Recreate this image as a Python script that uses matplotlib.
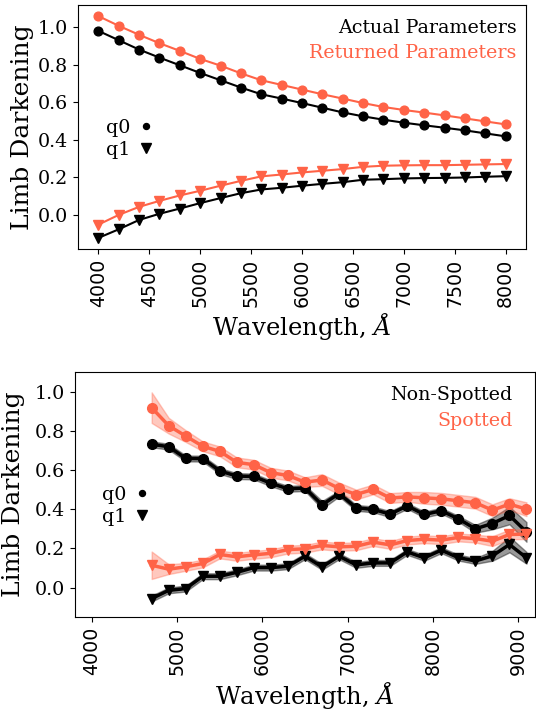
import numpy as np
import matplotlib
matplotlib.use("Agg")
import matplotlib.pyplot as plt
from matplotlib.lines import Line2D

plt.rcParams['mathtext.fontset'] = 'dejavuserif'

RED = 'tomato'

# ---------------- top panel data ----------------
wl_top = [4000, 4200, 4400, 4600, 4800, 5000, 5200, 5400, 5600, 5800, 6000,
          6200, 6400, 6600, 6800, 7000, 7200, 7400, 7600, 7800, 8000]
actual_q0 = [0.982, 0.932, 0.882, 0.839, 0.798, 0.757, 0.718, 0.679, 0.643, 0.620, 0.596,
             0.571, 0.546, 0.525, 0.507, 0.491, 0.477, 0.464, 0.450, 0.434, 0.418]
returned_q0 = [1.061, 1.009, 0.961, 0.916, 0.875, 0.832, 0.796, 0.755, 0.718, 0.693, 0.668,
               0.643, 0.620, 0.596, 0.575, 0.559, 0.545, 0.530, 0.514, 0.498, 0.482]
actual_q1 = [-0.125, -0.079, -0.029, 0.004, 0.032, 0.061, 0.088, 0.114, 0.134, 0.143, 0.154,
             0.164, 0.173, 0.186, 0.189, 0.193, 0.195, 0.196, 0.198, 0.202, 0.205]
returned_q1 = [-0.054, -0.002, 0.041, 0.073, 0.102, 0.127, 0.154, 0.180, 0.204, 0.214, 0.225,
               0.234, 0.243, 0.255, 0.261, 0.263, 0.264, 0.264, 0.266, 0.268, 0.270]

# ---------------- bottom panel data ----------------
wl_bot = [4700, 4900, 5100, 5300, 5500, 5700, 5900, 6100, 6300, 6500, 6700, 6900,
          7100, 7300, 7500, 7700, 7900, 8100, 8300, 8500, 8700, 8900, 9100]
nonspot_q0 = [0.731, 0.719, 0.659, 0.658, 0.595, 0.569, 0.567, 0.532, 0.504, 0.508, 0.422, 0.480,
              0.407, 0.399, 0.375, 0.417, 0.373, 0.392, 0.351, 0.300, 0.327, 0.368, 0.284]
nonspot_q0_err = [0.015, 0.015, 0.015, 0.015, 0.015, 0.015, 0.015, 0.015, 0.015, 0.015, 0.02, 0.015,
                  0.015, 0.015, 0.015, 0.015, 0.015, 0.015, 0.015, 0.02, 0.03, 0.045, 0.05]
spot_q0 = [0.918, 0.826, 0.773, 0.721, 0.695, 0.639, 0.627, 0.586, 0.572, 0.538, 0.549, 0.506,
           0.475, 0.501, 0.457, 0.463, 0.458, 0.453, 0.443, 0.433, 0.395, 0.426, 0.400]
spot_q0_err = [0.078, 0.04, 0.03, 0.025, 0.025, 0.025, 0.025, 0.025, 0.025, 0.025, 0.03, 0.03,
               0.025, 0.025, 0.025, 0.025, 0.03, 0.03, 0.03, 0.03, 0.03, 0.03, 0.035]
nonspot_q1 = [-0.056, -0.014, -0.005, 0.058, 0.058, 0.078, 0.102, 0.102, 0.109, 0.160, 0.106, 0.160,
              0.116, 0.126, 0.126, 0.182, 0.152, 0.191, 0.153, 0.136, 0.162, 0.220, 0.152]
nonspot_q1_err = [0.015, 0.015, 0.015, 0.015, 0.015, 0.015, 0.015, 0.015, 0.015, 0.015, 0.015, 0.015,
                  0.015, 0.015, 0.015, 0.015, 0.015, 0.015, 0.015, 0.015, 0.025, 0.04, 0.03]
spot_q1 = [0.114, 0.094, 0.106, 0.123, 0.169, 0.157, 0.167, 0.175, 0.194, 0.198, 0.215, 0.208,
           0.211, 0.232, 0.218, 0.240, 0.247, 0.242, 0.256, 0.250, 0.237, 0.271, 0.273]
spot_q1_err = [0.07, 0.025, 0.02, 0.02, 0.02, 0.02, 0.02, 0.02, 0.02, 0.02, 0.02, 0.02,
               0.02, 0.02, 0.02, 0.02, 0.02, 0.02, 0.02, 0.02, 0.025, 0.025, 0.025]

xticks_top = [4000, 4500, 5000, 5500, 6000, 6500, 7000, 7500, 8000]
xticks_bot = [4000, 5000, 6000, 7000, 8000, 9000]
yticks = [0.0, 0.2, 0.4, 0.6, 0.8, 1.0]

FS = 13.7
LFS = 13.7
fig = plt.figure(figsize=(5.36, 7.11), dpi=100)
ax1 = fig.add_axes([78/536, 1-249/711, 448/536, 244/711])
ax2 = fig.add_axes([75/536, 1-617/711, 460/536, 245/711])

# top
ax1.plot(wl_top, actual_q0, '-o', color='k', ms=6.3, lw=1.5)
ax1.plot(wl_top, returned_q0, '-o', color=RED, ms=6.3, lw=1.5)
ax1.plot(wl_top, actual_q1, '-v', color='k', ms=6.5, lw=1.5)
ax1.plot(wl_top, returned_q1, '-v', color=RED, ms=6.5, lw=1.5)
ax1.set_xticks(xticks_top)

# bottom
def band(ax, x, y, e, color, fc, alpha, marker):
    y = np.asarray(y); e = np.asarray(e)
    ax.fill_between(x, y - e, y + e, color=fc, alpha=alpha, lw=1.0)
    ax.plot(x, y, '-' + marker, color=color, ms=7, lw=2.5)

band(ax2, wl_bot, nonspot_q0, nonspot_q0_err, 'k', 'k', 0.4, 'o')
band(ax2, wl_bot, spot_q0, spot_q0_err, RED, RED, 0.35, 'o')
band(ax2, wl_bot, nonspot_q1, nonspot_q1_err, 'k', 'k', 0.4, 'v')
band(ax2, wl_bot, spot_q1, spot_q1_err, RED, RED, 0.35, 'v')
ax2.set_xlim(3800, 9200)
ax2.set_ylim(-0.15, 1.1)
ax2.set_xticks(xticks_bot)

for ax, labs, tpos, lpos in (
        (ax1, ('Actual Parameters', 'Returned Parameters'), (0.979, 0.906, 0.803), (0.025, 0.451)),
        (ax2, ('Non-Spotted', 'Spotted'), (0.9515, 0.906, 0.80), (0.022, 0.453))):
    ax.set_yticks(yticks)
    ax.set_yticklabels([f'{v:.1f}' for v in yticks], family='DejaVu Serif', fontsize=FS)
    ax.tick_params(axis='x', labelrotation=90, labelsize=FS)
    ax.set_ylabel('Limb Darkening', family='DejaVu Serif', fontsize=18)
    ax.set_xlabel(r'Wavelength, $\AA$', family='DejaVu Serif', fontsize=17.5, labelpad=3)
    ax.text(tpos[0], tpos[1], labs[0], color='k', ha='right', va='center',
            transform=ax.transAxes, family='DejaVu Serif', fontsize=LFS)
    ax.text(tpos[0], tpos[2], labs[1], color=RED, ha='right', va='center',
            transform=ax.transAxes, family='DejaVu Serif', fontsize=LFS)
    handles = [Line2D([], [], ls='none', marker='o', color='k', ms=4.3),
               Line2D([], [], ls='none', marker='v', color='k', ms=6.5)]
    ax.legend(handles, ['q0', 'q1'], markerfirst=False, frameon=False,
              loc='center left', bbox_to_anchor=lpos, handlelength=0.8,
              handletextpad=0.4, labelspacing=0.22,
              prop={'family': 'DejaVu Serif', 'size': LFS})

ax1.yaxis.set_label_coords(-0.098, 0.5)
ax2.yaxis.set_label_coords(-0.109, 0.5)

fig.savefig('out.png', dpi=100)
